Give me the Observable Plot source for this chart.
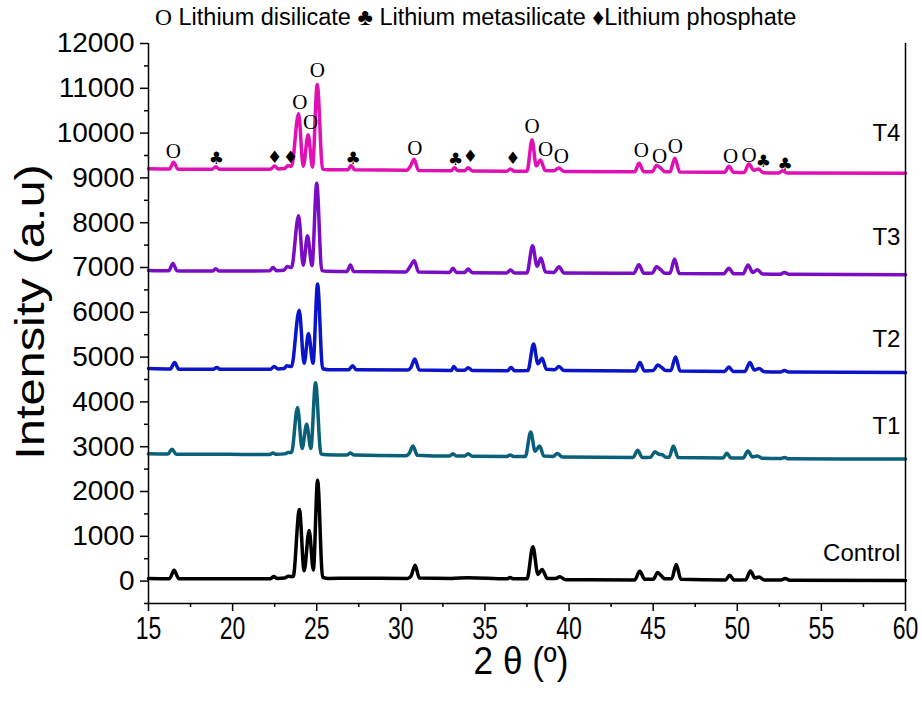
<!DOCTYPE html>
<html><head><meta charset="utf-8">
<script src="https://cdn.jsdelivr.net/npm/d3@7"></script>
<script src="https://cdn.jsdelivr.net/npm/@observablehq/plot@0.6"></script>
<style>
body{margin:0;background:#fff;}
#wrap{position:relative;width:922px;height:701px;}
#legend{position:absolute;top:4px;left:155px;font-family:"Liberation Sans",Arial,sans-serif;font-size:23.5px;color:#000;white-space:nowrap;}
#legend .o{font-family:"Liberation Serif","Times New Roman",serif;}
.title{position:absolute;font-family:"Liberation Sans",Arial,sans-serif;color:#000;white-space:nowrap;line-height:1;}
#ytitle{left:30px;top:312px;font-size:40px;transform:translate(-50%,-50%) rotate(-90deg) scaleX(1.22);}
#xtitle{left:521px;top:660px;font-size:39px;transform:translate(-50%,-50%) scaleX(0.9);}
</style></head><body>
<div id="wrap"><div id="chart"></div><div id="legend"><span class="o">O</span> Lithium disilicate ♣ Lithium metasilicate ♦Lithium phosphate</div><div id="ytitle" class="title">Intensity (a.u)</div><div id="xtitle" class="title">2 θ (º)</div></div>
<script>
// ---- data: [2θ, intensity] ----
const controlPts = [[15,60],[16.25,55],[16.52,240],[16.8,55],[19,50],[22.25,55],[22.45,100],[22.65,60],[23.1,70],[23.3,110],[23.6,100],[23.97,1600],[24.25,230],[24.55,1130],[24.8,250],[25.05,2250],[25.35,90],[25.7,60],[27,65],[30.4,60],[30.6,110],[30.85,355],[31.1,70],[33,60],[34,75],[36.3,50],[36.5,80],[36.7,50],[37.5,50],[37.85,765],[38.15,150],[38.4,260],[38.7,60],[39.2,60],[39.45,95],[39.8,30],[43.9,25],[44.2,220],[44.5,40],[45.0,40],[45.27,190],[45.5,110],[45.7,50],[46.1,50],[46.37,370],[46.65,40],[49.3,25],[49.55,130],[49.8,25],[50.5,30],[50.78,225],[51.05,70],[51.3,90],[51.6,25],[52.6,25],[52.85,60],[53.1,20],[60,15]];
const t1Pts = [[15,2840],[16.15,2835],[16.4,2945],[16.65,2830],[19,2830],[22.2,2825],[22.4,2860],[22.6,2830],[23.1,2840],[23.3,2870],[23.5,2870],[23.86,3875],[24.13,2960],[24.4,3500],[24.65,2960],[24.93,4430],[25.25,2840],[25.6,2820],[26.8,2815],[27.0,2860],[27.2,2815],[30.3,2800],[30.5,2850],[30.72,3015],[30.98,2810],[32.9,2790],[33.1,2845],[33.3,2790],[33.8,2790],[34.0,2845],[34.25,2785],[36.3,2780],[36.5,2815],[36.7,2780],[37.4,2780],[37.72,3330],[37.98,2900],[38.25,3015],[38.5,2790],[39.05,2780],[39.3,2850],[39.6,2770],[43.8,2760],[44.08,2920],[44.35,2760],[44.85,2765],[45.1,2885],[45.35,2830],[45.55,2820],[45.75,2765],[45.95,2765],[46.2,3015],[46.48,2760],[49.15,2750],[49.38,2855],[49.62,2750],[50.35,2745],[50.63,2905],[50.9,2770],[51.2,2795],[51.5,2740],[52.55,2735],[52.8,2760],[53.05,2730],[60,2725]];
const t2Pts = [[15,4745],[16.3,4735],[16.55,4880],[16.8,4730],[18.85,4730],[19.06,4770],[19.25,4730],[22.25,4730],[22.47,4790],[22.7,4735],[23.05,4745],[23.22,4805],[23.5,4790],[23.96,6045],[24.25,4860],[24.51,5525],[24.78,4860],[25.05,6630],[25.35,4740],[25.7,4720],[26.9,4720],[27.13,4805],[27.35,4720],[30.4,4710],[30.6,4770],[30.83,4955],[31.1,4710],[33.0,4700],[33.15,4790],[33.35,4705],[33.8,4705],[34.0,4765],[34.25,4700],[36.35,4695],[36.55,4770],[36.75,4695],[37.55,4700],[37.89,5290],[38.15,4850],[38.4,4975],[38.65,4730],[39.15,4720],[39.4,4790],[39.7,4700],[43.95,4690],[44.21,4880],[44.48,4690],[45.0,4700],[45.28,4825],[45.5,4770],[45.75,4700],[46.05,4700],[46.33,5005],[46.6,4690],[49.25,4680],[49.5,4780],[49.75,4680],[50.45,4680],[50.75,4880],[51.02,4710],[51.3,4745],[51.6,4675],[52.55,4670],[52.8,4700],[53.05,4665],[60,4655]];
const t3Pts = [[15,6935],[16.2,6925],[16.45,7090],[16.7,6925],[18.8,6920],[19.0,6970],[19.2,6920],[22.2,6925],[22.4,7000],[22.6,6930],[23.05,6940],[23.24,7020],[23.5,7000],[23.92,8155],[24.2,7050],[24.45,7710],[24.72,7040],[25.0,8880],[25.3,6930],[25.65,6915],[26.8,6910],[27.0,7055],[27.2,6910],[30.3,6900],[30.55,7020],[30.8,7150],[31.05,6900],[32.9,6890],[33.1,6985],[33.3,6890],[33.8,6890],[34.0,6965],[34.25,6885],[36.3,6880],[36.52,6945],[36.75,6880],[37.5,6880],[37.83,7485],[38.1,7030],[38.33,7210],[38.6,6900],[39.1,6890],[39.4,7015],[39.7,6880],[43.85,6870],[44.15,7060],[44.45,6870],[44.95,6875],[45.2,7015],[45.45,6950],[45.7,6870],[46.0,6870],[46.27,7190],[46.55,6865],[49.2,6860],[49.5,6985],[49.78,6860],[50.35,6860],[50.64,7055],[50.92,6890],[51.2,6950],[51.5,6855],[52.55,6850],[52.8,6890],[53.05,6850],[60,6840]];
const t4Pts = [[15,9205],[16.25,9200],[16.49,9350],[16.75,9195],[18.8,9195],[19.0,9250],[19.2,9195],[22.25,9195],[22.5,9265],[22.7,9200],[23.1,9210],[23.28,9270],[23.5,9260],[23.92,10430],[24.2,9260],[24.49,9965],[24.75,9240],[25.03,11085],[25.35,9195],[25.7,9180],[26.85,9180],[27.04,9275],[27.25,9180],[30.35,9170],[30.55,9250],[30.79,9415],[31.05,9165],[33.0,9160],[33.19,9225],[33.4,9160],[33.8,9160],[34.0,9225],[34.25,9155],[36.3,9150],[36.52,9200],[36.75,9150],[37.5,9150],[37.8,9850],[38.05,9270],[38.3,9400],[38.58,9165],[39.1,9160],[39.39,9220],[39.7,9145],[43.9,9135],[44.16,9325],[44.45,9135],[44.95,9140],[45.2,9275],[45.45,9220],[45.7,9135],[46.0,9135],[46.29,9440],[46.58,9130],[49.25,9125],[49.5,9260],[49.78,9125],[50.4,9120],[50.69,9310],[50.98,9170],[51.25,9200],[51.55,9115],[52.45,9110],[52.7,9160],[52.95,9110],[60,9105]];

const seriesNames = ["Control","T1","T2","T3","T4"];
const seriesColors = ["#000000","#0a6079","#0a14c8","#7a0cc4","#e010b4"];
const labelY = [610, 3464, 5408, 7672, 9989];

// phase markers above T4
const discX = [16.47,23.99,24.63,25.03,30.83,37.8,38.6,39.54,44.3,45.38,46.32,49.6,50.7];
const discY = [9593,10689,10242,11397,9669,10150,9640,9490,9618,9490,9716,9490,9513];
const metaX = [19.04,27.16,33.25,51.55,52.85];
const metaY = [9423,9423,9408,9363,9303];
const phosX = [22.5,23.45,34.14,36.66];
const phosY = [9460,9460,9475,9423];

const xMajor = [15,20,25,30,35,40,45,50,55,60];
const xMinor = [17.5,22.5,27.5,32.5,37.5,42.5,47.5,52.5,57.5];
const yMajor = [0,1000,2000,3000,4000,5000,6000,7000,8000,9000,10000,11000,12000];
const yMinor = [-500,500,1500,2500,3500,4500,5500,6500,7500,8500,9500,10500,11500];

const allPts = [controlPts,t1Pts,t2Pts,t3Pts,t4Pts];
const sans = "Liberation Sans, Arial, sans-serif";
const serif = "Liberation Serif, Times New Roman, serif";
const sym = "DejaVu Sans, sans-serif";

const marks = [];
allPts.forEach((pts, i) => {
  marks.push(Plot.line(pts, {x: d => d[0], y: d => d[1], stroke: seriesColors[i], strokeWidth: 3.5, curve: "monotone-x", strokeLinejoin: "round"}));
});
marks.push(
  Plot.ruleY([-500], {stroke: "#000", strokeWidth: 1.5}),
  Plot.ruleX([15, 60], {stroke: "#000", strokeWidth: 1.5}),
  Plot.axisY({ticks: yMajor, tickSize: 8, tickPadding: 6, tickFormat: d => String(d), fontSize: 28, fontFamily: sans, fill: "#000", stroke: "#000", strokeWidth: 1.5, label: null}),
  Plot.axisY({ticks: yMinor, tickSize: 4, tickFormat: () => "", stroke: "#000", strokeWidth: 1.5, label: null}),
  Plot.axisX({ticks: xMajor, tickSize: 8, tickPadding: 5, tickFormat: d => String(d), fontSize: 32, fontFamily: sans, fill: "#000", stroke: "#000", strokeWidth: 1.5, label: null}),
  Plot.axisX({ticks: xMinor, tickSize: 4, tickFormat: () => "", stroke: "#000", strokeWidth: 1.5, label: null}),
  Plot.text(seriesNames, {x: 59.7, y: (d, i) => labelY[i], text: d => d, textAnchor: "end", fontSize: 24, fontFamily: sans, fill: "#000"}),
  Plot.text(discX, {x: d => d, y: (d, i) => discY[i], text: () => "O", fontSize: 21, fontFamily: serif, fill: "#000"}),
  Plot.text(metaX, {x: d => d, y: (d, i) => metaY[i], text: () => "♣", fontSize: 17, fontFamily: sym, fill: "#000"}),
  Plot.text(phosX, {x: d => d, y: (d, i) => phosY[i], text: () => "♦", fontSize: 17, fontFamily: sym, fill: "#000"})
);

const chart = Plot.plot({
  width: 922, height: 701,
  marginLeft: 148, marginRight: 17, marginTop: 43, marginBottom: 98,
  x: {domain: [15, 60]},
  y: {domain: [-500, 12000]},
  style: {background: "#fff", overflow: "visible"},
  marks
});
document.getElementById("chart").appendChild(chart);

// condensed x tick labels, as in the reference (glyphs squeezed, position kept)
chart.querySelectorAll('g[aria-label="x-axis tick label"] text').forEach(t => {
  const L = t.getComputedTextLength();
  if (L > 0) {
    t.setAttribute("textLength", (L * 0.72).toFixed(1));
    t.setAttribute("lengthAdjust", "spacingAndGlyphs");
  }
});
</script>
</body></html>
